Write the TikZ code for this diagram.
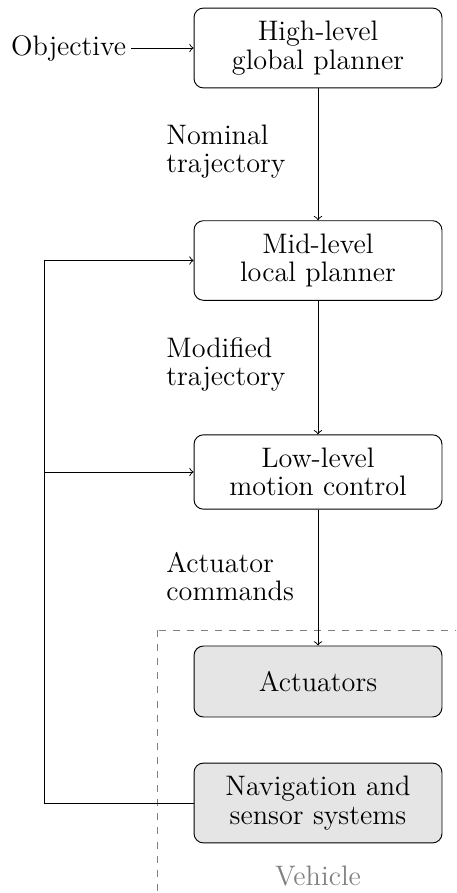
\documentclass[tikz,border=0pt]{standalone}
\tikzset{
  every node/.style={font=\fontsize{12}{12}\selectfont},
  block/.style={draw, rounded corners=4pt, text width=95pt, align=center,
                inner xsep=5.25pt, inner ysep=5.6pt},
  hwblock/.style={block, fill=black!10, minimum height=30.2pt},
  lbl/.style={align=left, inner sep=0pt, anchor=north west},
  flow/.style={->},
  boundary/.style={draw=gray, dashed},
}
\begin{document}
\begin{tikzpicture}[x=0.4255pt, y=-0.4255pt]
\useasboundingbox (0,0) rectangle (456,893);
\clip (0,0) rectangle (456,893);

% vehicle boundary (open to the right and bottom)
\draw[boundary] (157,630) rectangle (500,940);

% control hierarchy
\node[block] (hi)  at (318,48)    {High-level\\global planner};
\node[block] (mid) at (318,260.5) {Mid-level\\local planner};
\node[block] (low) at (318,472)   {Low-level\\motion control};

% vehicle hardware
\node[hwblock] (act) at (318,681.5) {Actuators};
\node[hwblock] (nav) at (318,803)   {Navigation and\\sensor systems};
\node[text=gray, anchor=base] (veh) at (318,885) {Vehicle};

% input
\node[inner sep=2pt, anchor=west] (obj) at (6,48) {Objective};
\draw[flow] (obj) -- (hi);

% signal labels
\node[lbl] (l1) at (166,124.5) {Nominal\\trajectory};
\node[lbl] (l2) at (166,337)   {Modified\\trajectory};
\node[lbl] (l3) at (166,551.5) {Actuator\\commands};

% downward flow
\draw[flow] (hi) -- (mid);
\draw[flow] (mid) -- (low);
\draw[flow] (low) -- (act);

% feedback from sensors
\coordinate (fb) at (44,803);
\draw[flow] (nav.west) -- (fb) |- (mid.west);
\draw[flow] (fb |- low.west) -- (low.west);
\end{tikzpicture}
\end{document}
